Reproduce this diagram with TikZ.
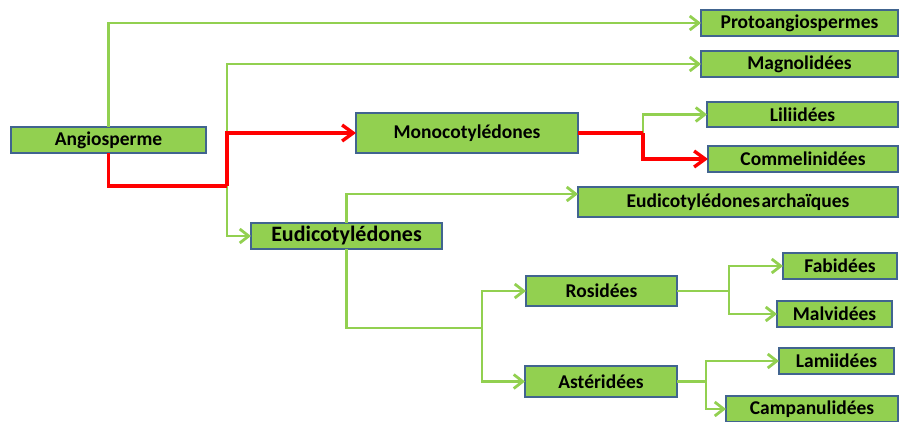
\documentclass[tikz,border=0pt]{standalone}
\usepackage{fontspec}
\setmainfont{Carlito}
\usetikzlibrary{arrows.meta}
\definecolor{leaf}{HTML}{92D050}
\definecolor{rim}{HTML}{41648F}
\definecolor{path}{HTML}{FF0000}
\tikzset{
  taxon/.style={draw=rim, line width=2pt, fill=leaf, anchor=north west,
    inner sep=0pt, outer sep=0pt, align=center,
    font=\fontsize{19.5}{22}\selectfont\bfseries},
  gline/.style={draw=leaf, line width=2.8pt,
    -{Straight Barb[length=9pt,width=14pt,line width=2.8pt]}},
  gplain/.style={draw=leaf, line width=2.8pt},
  rline/.style={draw=path, line width=3.4pt,
    -{Straight Barb[length=11pt,width=16pt,line width=3.4pt]}},
  rplain/.style={draw=path, line width=3.4pt},
}
\begin{document}
\begin{tikzpicture}[x=1pt,y=-1pt]
\useasboundingbox (0,0) rectangle (899,421);

% boxes, placed by their top-left corners
\node[taxon, minimum width=195pt, minimum height=26pt] (ang)   at (11,127)  {Angiosperme};
\node[taxon, minimum width=197pt, minimum height=26pt] (proto) at (701,10)  {Protoangiospermes};
\node[taxon, minimum width=197pt, minimum height=26pt] (magno) at (701,51)  {Magnolidées};
\node[taxon, minimum width=222pt, minimum height=40pt] (mono)  at (356,113) {Monocotylédones};
\node[taxon, minimum width=191pt, minimum height=25pt] (lili)  at (707,102) {Liliidées};
\node[taxon, minimum width=190pt, minimum height=26pt] (comm)  at (708,146) {Commelinidées};
\node[taxon, minimum width=320pt, minimum height=30pt] (arch)  at (578,187) {Eudicotylédones\hspace{-0.15em} archaïques};
\node[taxon, minimum width=191pt, minimum height=26pt,
      font=\fontsize{22}{24}\selectfont\bfseries]       (eudi)  at (251,223) {Eudicotylédones};
\node[taxon, minimum width=151pt, minimum height=30pt] (ros)   at (526,276) {Rosidées};
\node[taxon, minimum width=152pt, minimum height=31pt] (ast)   at (525,366) {Astéridées};
\node[taxon, minimum width=114pt, minimum height=26pt] (fab)   at (783,253) {Fabidées};
\node[taxon, minimum width=115pt, minimum height=26pt] (malv)  at (777,301) {Malvidées};
\node[taxon, minimum width=115pt, minimum height=26pt] (lami)  at (779,348) {Lamiidées};
\node[taxon, minimum width=172pt, minimum height=26pt] (camp)  at (726,396) {Campanulidées};

% branching points
\coordinate (j1) at (227,186);
\coordinate (j3) at (482,328);
\path (mono.east) ++(65,0) coordinate (j2);
\path (ros.east)  ++(52,0) coordinate (j4);
\path (ast.east)  ++(29,0) coordinate (j5);

% green branches
\draw[gline] (ang.north) |- (proto.west);
\draw[gline] (j1) |- (magno.west);
\draw[gline] (j1) |- (eudi.west);
\draw[gline] (j2) |- (lili.west);
\draw[gline] (eudi.north) |- ([yshift=8pt]arch.west);
\draw[gplain] (eudi.south) |- (j3);
\draw[gline] (j3) |- (ros.west);
\draw[gline] (j3) |- (ast.west);
\draw[gplain] (ros.east) -- (j4);
\draw[gline] (j4) |- (fab.west);
\draw[gline] (j4) |- (malv.west);
\draw[gplain] (ast.east) -- (j5);
\draw[gline] (j5) |- (lami.west);
\draw[gline] (j5) |- (camp.west);

% highlighted path
\draw[rplain] (ang.south) |- (j1);
\draw[rline] (j1) |- (mono.west);
\draw[rplain] (mono.east) -- (j2);
\draw[rline] (j2) |- (comm.west);
\end{tikzpicture}
\end{document}
